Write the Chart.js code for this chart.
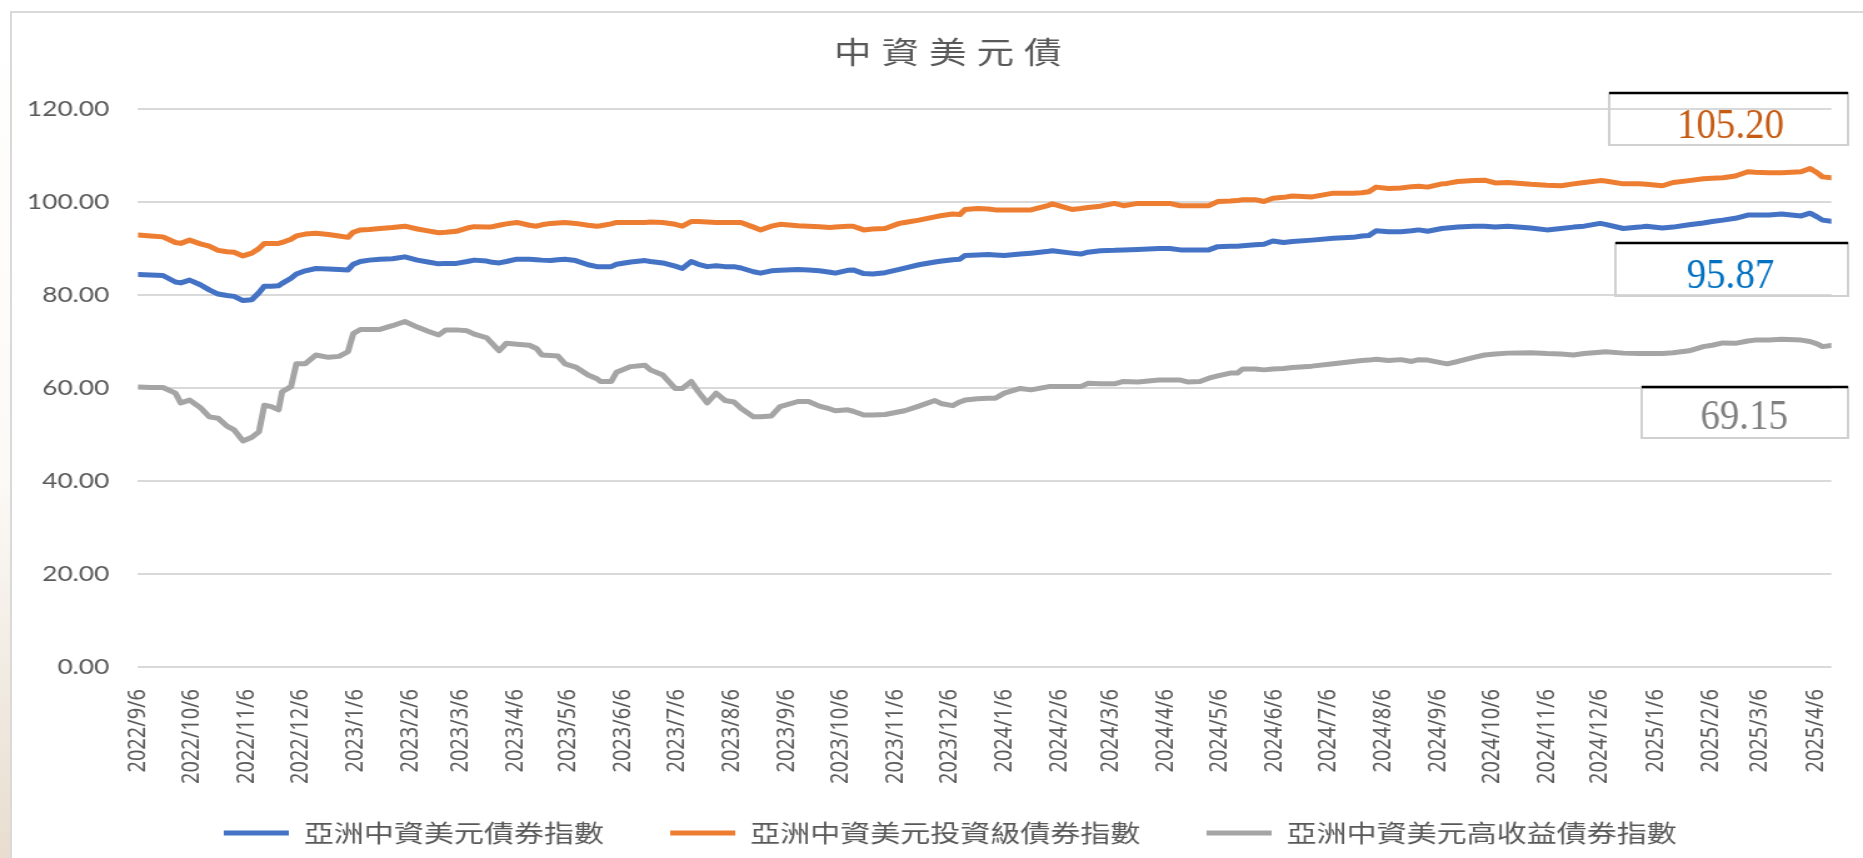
<!DOCTYPE html>
<html>
<head>
<meta charset="utf-8">
<title>中資美元債</title>
<script src="https://cdn.jsdelivr.net/npm/chart.js@4"></script>
<style>
  html, body {
    margin: 0;
    width: 1863px;
    height: 858px;
    overflow: hidden;
    background: linear-gradient(to bottom, #ffffff 0%, #fcfaf7 55%, #e8ddcf 100%);
    position: relative;
  }
  #frame {
    position: absolute;
    left: 10px;
    top: 11px;
    width: 1900px;
    height: 900px;
    border: 2px solid #d9d9d9;
    background: #ffffff;
  }
  #chart {
    position: absolute;
    left: 0;
    top: 0;
  }
</style>
</head>
<body>
<div id="frame"></div>
<!-- the source picture is stretched sideways, so the canvas is too -->
<canvas id="chart" width="1490" height="858" style="width:1863px;height:858px"></canvas>
<script>
/* ---------- DATA ---------- */
const chartTitle = "中資美元債";
const startDate = "2022/9/6";

const tickLabels = [
    "2022/9/6", "2022/10/6", "2022/11/6", "2022/12/6",
    "2023/1/6", "2023/2/6", "2023/3/6", "2023/4/6", "2023/5/6", "2023/6/6",
    "2023/7/6", "2023/8/6", "2023/9/6", "2023/10/6", "2023/11/6", "2023/12/6",
    "2024/1/6", "2024/2/6", "2024/3/6", "2024/4/6", "2024/5/6", "2024/6/6",
    "2024/7/6", "2024/8/6", "2024/9/6", "2024/10/6", "2024/11/6", "2024/12/6",
    "2025/1/6", "2025/2/6", "2025/3/6", "2025/4/6"
];

const seriesNames = [
    "亞洲中資美元債券指數",
    "亞洲中資美元投資級債券指數",
    "亞洲中資美元高收益債券指數"
];

// days since 2022/9/6
const dayOffsets = [
    0, 7, 14, 21, 24, 29, 35, 40, 45, 50,
    54, 59, 64, 68, 71, 75, 79, 81, 86, 89,
    94, 100, 107, 113, 118, 121, 125, 130, 136, 143,
    150, 157, 163, 169, 173, 179, 185, 189, 196, 198,
    203, 207, 213, 220, 224, 227, 232, 236, 240, 246,
    253, 258, 260, 266, 269, 277, 285, 288, 295, 302,
    306, 311, 315, 320, 325, 330, 335, 339, 346, 350,
    356, 361, 371, 377, 383, 389, 392, 399, 402, 408,
    413, 420, 428, 431, 439, 448, 452, 458, 462, 465,
    472, 478, 482, 487, 496, 502, 512, 514, 525, 530,
    534, 541, 549, 554, 562, 574, 580, 586, 590, 597,
    602, 607, 614, 618, 621, 628, 633, 638, 644, 649,
    660, 672, 683, 688, 692, 696, 703, 710, 716, 720,
    725, 733, 736, 742, 751, 757, 763, 770, 783, 792,
    800, 807, 813, 822, 825, 835, 844, 848, 857, 863,
    872, 880, 885, 891, 898, 905, 909, 917, 924, 935,
    940, 944, 947, 952
];

const bondIndex = [
    84.4, 84.3, 84.2, 82.8, 82.6, 83.2, 82.2, 81.1, 80.2, 79.9,
    79.7, 78.8, 79.0, 80.5, 81.9, 81.9, 82.0, 82.5, 83.6, 84.5,
    85.2, 85.7, 85.6, 85.5, 85.4, 86.6, 87.2, 87.5, 87.7, 87.8,
    88.2, 87.5, 87.1, 86.7, 86.8, 86.8, 87.2, 87.5, 87.3, 87.1,
    86.9, 87.2, 87.7, 87.7, 87.6, 87.5, 87.4, 87.6, 87.7, 87.4,
    86.5, 86.1, 86.1, 86.1, 86.6, 87.1, 87.4, 87.2, 86.9, 86.2,
    85.7, 87.2, 86.6, 86.1, 86.3, 86.1, 86.1, 85.8, 85.0, 84.7,
    85.2, 85.3, 85.5, 85.4, 85.2, 84.9, 84.7, 85.3, 85.4, 84.6,
    84.5, 84.8, 85.5, 85.8, 86.5, 87.1, 87.3, 87.6, 87.7, 88.5,
    88.6, 88.7, 88.6, 88.5, 88.8, 89.0, 89.4, 89.5, 89.0, 88.8,
    89.2, 89.5, 89.6, 89.7, 89.8, 90.0, 90.0, 89.7, 89.7, 89.7,
    89.7, 90.4, 90.5, 90.5, 90.6, 90.8, 90.9, 91.6, 91.3, 91.5,
    91.8, 92.2, 92.4, 92.7, 92.8, 93.8, 93.6, 93.6, 93.8, 94.0,
    93.7, 94.3, 94.4, 94.6, 94.8, 94.8, 94.6, 94.8, 94.4, 94.0,
    94.3, 94.6, 94.8, 95.4, 95.2, 94.3, 94.6, 94.8, 94.4, 94.6,
    95.1, 95.5, 95.8, 96.1, 96.5, 97.2, 97.2, 97.2, 97.4, 97.0,
    97.6, 96.8, 96.1, 95.87
];

const igIndex = [
    92.9, 92.7, 92.5, 91.3, 91.1, 91.8, 91.0, 90.5, 89.6, 89.3,
    89.2, 88.4, 89.0, 90.0, 91.1, 91.1, 91.1, 91.3, 92.0, 92.7,
    93.1, 93.3, 93.0, 92.7, 92.4, 93.5, 94.0, 94.1, 94.3, 94.5,
    94.8, 94.2, 93.8, 93.4, 93.5, 93.7, 94.4, 94.7, 94.6, 94.6,
    95.0, 95.3, 95.6, 95.0, 94.8, 95.1, 95.4, 95.5, 95.6, 95.4,
    95.0, 94.8, 94.9, 95.3, 95.6, 95.6, 95.6, 95.7, 95.6, 95.2,
    94.8, 95.8, 95.8, 95.7, 95.6, 95.6, 95.6, 95.6, 94.6, 94.0,
    94.8, 95.2, 94.9, 94.8, 94.7, 94.5, 94.6, 94.8, 94.8, 94.0,
    94.2, 94.3, 95.4, 95.6, 96.1, 96.8, 97.1, 97.4, 97.3, 98.4,
    98.6, 98.5, 98.3, 98.3, 98.3, 98.3, 99.3, 99.6, 98.4, 98.6,
    98.8, 99.1, 99.7, 99.2, 99.7, 99.7, 99.7, 99.2, 99.2, 99.2,
    99.2, 100.1, 100.2, 100.3, 100.5, 100.5, 100.1, 100.8, 101.0, 101.3,
    101.1, 101.9, 101.9, 102.0, 102.2, 103.2, 102.9, 103.0, 103.3, 103.4,
    103.2, 103.9, 104.0, 104.4, 104.6, 104.7, 104.1, 104.2, 103.8, 103.6,
    103.5, 103.9, 104.2, 104.6, 104.5, 103.9, 103.9, 103.8, 103.5, 104.2,
    104.6, 105.0, 105.1, 105.2, 105.6, 106.5, 106.4, 106.3, 106.3, 106.5,
    107.2, 106.3, 105.4, 105.20
];

const hyIndex = [
    60.2, 60.1, 60.1, 58.9, 56.8, 57.4, 55.8, 53.8, 53.5, 51.8,
    51.0, 48.6, 49.4, 50.6, 56.3, 56.0, 55.3, 59.2, 60.3, 65.2,
    65.2, 67.1, 66.6, 66.8, 67.8, 71.7, 72.6, 72.6, 72.6, 73.4,
    74.3, 73.1, 72.2, 71.4, 72.5, 72.5, 72.3, 71.6, 70.8, 70.0,
    68.0, 69.6, 69.4, 69.2, 68.5, 67.1, 67.0, 66.9, 65.2, 64.5,
    62.8, 62.0, 61.4, 61.4, 63.4, 64.6, 64.9, 63.9, 62.8, 59.9,
    59.9, 61.4, 59.2, 56.8, 58.9, 57.3, 57.0, 55.6, 53.8, 53.8,
    54.0, 56.0, 57.1, 57.1, 56.1, 55.5, 55.1, 55.3, 55.0, 54.2,
    54.2, 54.3, 54.9, 55.1, 56.1, 57.3, 56.6, 56.2, 57.0, 57.4,
    57.7, 57.8, 57.8, 58.9, 59.9, 59.6, 60.3, 60.3, 60.3, 60.3,
    61.0, 60.9, 60.9, 61.4, 61.3, 61.7, 61.7, 61.7, 61.3, 61.4,
    62.1, 62.6, 63.2, 63.2, 64.1, 64.1, 63.9, 64.1, 64.2, 64.4,
    64.7, 65.2, 65.7, 65.9, 66.0, 66.2, 65.9, 66.1, 65.7, 66.1,
    66.0, 65.4, 65.2, 65.7, 66.6, 67.1, 67.3, 67.5, 67.6, 67.4,
    67.3, 67.1, 67.4, 67.7, 67.8, 67.5, 67.4, 67.4, 67.4, 67.6,
    68.0, 68.9, 69.2, 69.7, 69.6, 70.1, 70.3, 70.3, 70.5, 70.3,
    70.0, 69.5, 68.9, 69.15
];

const yTicks = { min: 0, max: 120, step: 20 };

/* ---------- HELPERS ---------- */
function dayNumber(str) {
    const [y, m, d] = str.split("/").map(Number);
    return Date.UTC(y, m - 1, d) / 86400000;
}

const tickDays = tickLabels.map(t => dayNumber(t) - dayNumber(startDate));

function points(values) {
    return dayOffsets.map((d, i) => ({ x: d, y: values[i] }));
}

function lineSet(label, values, color) {
    return {
        label: label,
        data: points(values),
        borderColor: color,
        backgroundColor: color,
        borderWidth: 5,
        borderJoinStyle: "round",
        borderCapStyle: "round",
        pointRadius: 0,
        tension: 0,
        fill: false
    };
}

/* ---------- TITLE + LAST VALUE BOXES ---------- */
const valueBoxes = [
    { series: 1, color: "#C55A11", left: 1287, right: 1478, top: 93,  bottom: 145, cx: 1384, base: 138 },
    { series: 0, color: "#0070C0", left: 1292, right: 1478, top: 243, bottom: 296, cx: 1384, base: 288 },
    { series: 2, color: "#7F7F7F", left: 1313, right: 1478, top: 387, bottom: 438, cx: 1395, base: 429 }
];

const overlayPlugin = {
    id: "overlay",
    // legend sits a bit right of centre and closer to the axis labels than its padding allows
    afterLayout(chart) {
        const lg = chart.legend;
        if (!lg) return;
        const dx = 21;
        lg.left += dx;
        lg.right += dx;
        lg.top = 768;
        lg.bottom = chart.height;
        lg.height = lg.bottom - lg.top;
    },
    afterDraw(chart) {
        const ctx = chart.ctx;

        ctx.save();
        ctx.fillStyle = "#595959";
        ctx.font = '400 30px "Noto Sans CJK TC"';
        ctx.textBaseline = "middle";
        ctx.textAlign = "center";
        if ("letterSpacing" in ctx) {
            ctx.letterSpacing = "8px";
            ctx.fillText(chartTitle, 762, 52);
        } else {
            ctx.fillText(chartTitle, 758, 52);
        }
        ctx.restore();

        valueBoxes.forEach(b => {
            const data = chart.data.datasets[b.series].data;
            const last = data[data.length - 1].y;

            ctx.save();
            ctx.strokeStyle = "#d0d0d0";
            ctx.lineWidth = 2;
            ctx.strokeRect(b.left, b.top, b.right - b.left, b.bottom - b.top);
            ctx.strokeStyle = "#000000";
            ctx.lineWidth = 2.5;
            ctx.beginPath();
            ctx.moveTo(b.left, b.top);
            ctx.lineTo(b.right, b.top);
            ctx.stroke();

            ctx.translate(b.cx, b.base);
            ctx.scale(0.74, 1);
            ctx.fillStyle = b.color;
            ctx.font = '42px "Liberation Serif"';
            ctx.textAlign = "center";
            ctx.textBaseline = "alphabetic";
            ctx.fillText(last.toFixed(2), 0, 0);
            ctx.restore();
        });
    }
};

/* ---------- CHART ---------- */
new Chart(document.getElementById("chart"), {
    type: "line",
    data: {
        datasets: [
            lineSet(seriesNames[0], bondIndex, "#4472C4"),
            lineSet(seriesNames[1], igIndex, "#ED7D31"),
            lineSet(seriesNames[2], hyIndex, "#A5A5A5")
        ]
    },
    options: {
        responsive: false,
        animation: false,
        devicePixelRatio: 1,
        layout: { padding: { top: 109, left: 0, right: 12, bottom: 0 } },
        scales: {
            x: {
                type: "linear",
                min: 0,
                max: dayOffsets[dayOffsets.length - 1],
                grid: { display: false },
                border: { display: false },
                afterBuildTicks: scale => {
                    scale.ticks = tickDays.map(v => ({ value: v }));
                },
                afterFit: scale => { scale.height = 120; },
                ticks: {
                    autoSkip: false,
                    minRotation: 90,
                    maxRotation: 90,
                    padding: 14,
                    color: "#595959",
                    font: { family: "Noto Sans", size: 20 },
                    callback: (v, i) => tickLabels[i]
                }
            },
            y: {
                min: yTicks.min,
                max: yTicks.max,
                grid: { color: "#d9d9d9", lineWidth: 2, drawTicks: false },
                border: { display: false },
                afterFit: scale => { scale.width = 110.4; },
                ticks: {
                    stepSize: yTicks.step,
                    padding: 23,
                    color: "#595959",
                    font: { family: "Lato", size: 21 },
                    callback: v => v.toFixed(2)
                }
            }
        },
        plugins: {
            title: { display: false },
            tooltip: { enabled: false },
            legend: {
                position: "bottom",
                maxHeight: 71,
                labels: {
                    usePointStyle: true,
                    pointStyle: "line",
                    pointStyleWidth: 52,
                    padding: 53,
                    color: "#595959",
                    font: { family: "Noto Sans CJK TC", size: 24 }
                }
            }
        }
    },
    plugins: [overlayPlugin]
});
</script>
</body>
</html>
